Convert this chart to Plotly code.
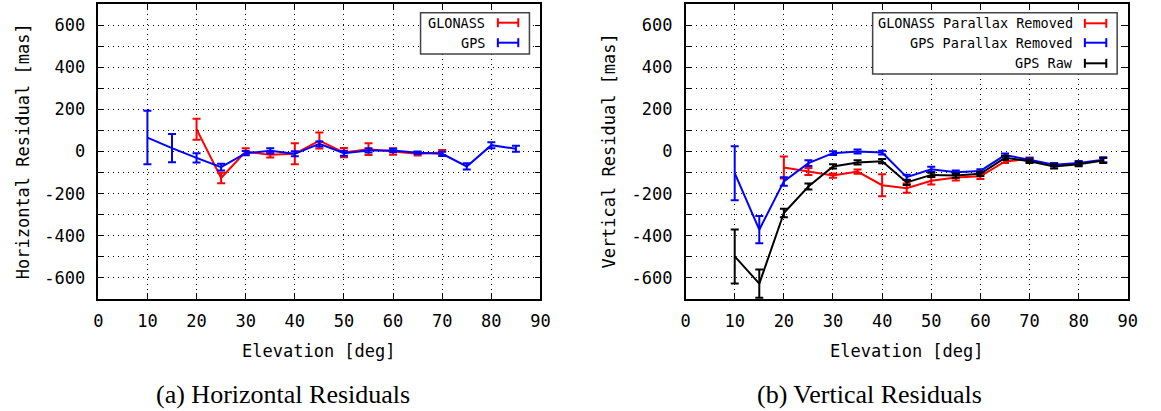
import plotly.graph_objects as go

W, H = 1161, 411

# ---------------- data ----------------
elev_gps = [10, 15, 20, 25, 30, 35, 40, 45, 50, 55, 60, 65, 70, 75, 80, 85]
elev_glo = [20, 25, 30, 35, 40, 45, 50, 55, 60, 65, 70]

# Horizontal residuals [mas]
glo_h = [106, -126, 0, -16, -11, 52, -5, 11, 0, -11, -5]
glo_h_err = [50, 25, 16, 13, 50, 38, 22, 28, 16, 8, 12]
gps_h = [66, 16, -30, -74, -8, 3, -11, 36, -8, 5, 5, -6, -11, -71, 30, 13]
gps_h_err = [127, 67, 22, 16, 10, 13, 12, 12, 12, 10, 8, 6, 10, 15, 14, 14]

# Vertical residuals [mas]
glo_v = [-76, -95, -114, -95, -160, -174, -139, -123, -118, -47, -36]
glo_v_err = [52, 17, 10, 10, 52, 22, 18, 15, 12, 8, 8]
gps_v = [-103, -371, -142, -55, -8, 0, -5, -122, -84, -98, -92, -17, -39, -63, -55, -39]
gps_v_err = [128, 65, 20, 14, 9, 9, 9, 12, 12, 8, 8, 8, 8, 8, 10, 12]
raw_v = [-498, -627, -292, -166, -71, -52, -46, -147, -111, -114, -106, -30, -46, -71, -60, -43]
raw_v_err = [128, 67, 20, 14, 10, 10, 10, 12, 10, 10, 10, 10, 8, 10, 10, 12]

x_ticks = [0, 10, 20, 30, 40, 50, 60, 70, 80, 90]
y_ticks = [-600, -500, -400, -300, -200, -100, 0, 100, 200, 300, 400, 500, 600]
y_ticktext = [str(v) if v % 200 == 0 else "" for v in y_ticks]

RED, BLUE, BLACK = "#ff0000", "#0000ff", "#000000"
MONO = "DejaVu Sans Mono"
SERIF = "Liberation Serif"


def px(x):
    return x / W


def py(y):
    return 1 - y / H


fig = go.Figure()


def add_series(x, y, err, color, xa, ya):
    fig.add_trace(go.Scatter(
        x=x, y=y, mode="lines", xaxis=xa, yaxis=ya,
        line=dict(color=color, width=2),
        error_y=dict(type="data", array=err, color=color, thickness=2, width=4),
        showlegend=False, hoverinfo="skip"))


add_series(elev_glo, glo_h, glo_h_err, RED, "x", "y")
add_series(elev_gps, gps_h, gps_h_err, BLUE, "x", "y")
add_series(elev_glo, glo_v, glo_v_err, RED, "x2", "y2")
add_series(elev_gps, gps_v, gps_v_err, BLUE, "x2", "y2")
add_series(elev_gps, raw_v, raw_v_err, BLACK, "x2", "y2")

ydom = [py(299), py(4)]
common_x = dict(range=[0, 90], tickvals=x_ticks, ticks="inside", ticklen=6,
                tickcolor="black", showline=True, linecolor="black", linewidth=1.5,
                mirror="ticks", showgrid=True, gridcolor="black", gridwidth=1,
                griddash="1px,4px", zeroline=False, ticklabelstandoff=6,
                tickfont=dict(family=MONO, size=17, color="black"))
common_y = dict(range=[-700, 700], tickvals=y_ticks, ticktext=y_ticktext,
                ticks="inside", ticklen=6, tickcolor="black", showline=True,
                linecolor="black", linewidth=1.5, mirror="ticks", showgrid=True,
                gridcolor="black", gridwidth=1, griddash="1px,4px", zeroline=False,
                ticklabelstandoff=8,
                tickfont=dict(family=MONO, size=17, color="black"))

fig.update_layout(
    width=W, height=H, margin=dict(l=0, r=0, t=0, b=0),
    paper_bgcolor="white", plot_bgcolor="white", showlegend=False,
    xaxis=dict(domain=[px(94.5), px(542.5)], anchor="y", **common_x),
    yaxis=dict(domain=ydom, anchor="x", **common_y),
    xaxis2=dict(domain=[px(689.5), px(1137.5)], anchor="y2", **common_x),
    yaxis2=dict(domain=ydom, anchor="x2", **common_y),
)

annotations = []
shapes = []


def text(x, y, s, size, family, xanchor="center", angle=0):
    annotations.append(dict(x=px(x), y=py(y), xref="paper", yref="paper", text=s,
                            showarrow=False, xanchor=xanchor, yanchor="middle",
                            textangle=angle,
                            font=dict(family=family, size=size, color="black")))


# axis titles
text(19, 151.5, "Horizontal Residual [mas]", 17, MONO, angle=-90)
text(612, 151.5, "Vertical Residual [mas]", 17, MONO, angle=-90)
text(318.5, 351, "Elevation [deg]", 17, MONO)
text(913.5, 351, "Elevation [deg]", 17, MONO)
# captions
text(282, 394, "(a) Horizontal Residuals", 26, SERIF)
text(876, 394, "(b) Vertical Residuals", 26, SERIF)


def legend_box(x0, y0, x1, y1):
    shapes.append(dict(type="rect", xref="paper", yref="paper",
                       x0=px(x0), x1=px(x1), y0=py(y1), y1=py(y0),
                       fillcolor="white", line=dict(color="#444444", width=1.5),
                       layer="above"))


def legend_entry(label, color, text_right, y, s0, s1):
    text(text_right, y, label, 13.5, MONO, xanchor="right")
    shapes.append(dict(type="line", xref="paper", yref="paper", x0=px(s0), x1=px(s1),
                       y0=py(y), y1=py(y), line=dict(color=color, width=2), layer="above"))
    for sx in (s0, s1):
        shapes.append(dict(type="line", xref="paper", yref="paper", x0=px(sx), x1=px(sx),
                           y0=py(y - 4.5), y1=py(y + 4.5), line=dict(color=color, width=2),
                           layer="above"))


legend_box(421, 12.7, 531.3, 54)
legend_entry("GLONASS", RED, 488.5, 22.7, 499.3, 520)
legend_entry("GPS", BLUE, 488.5, 42.7, 499.3, 520)

legend_box(879, 12.7, 1126.7, 74)
legend_entry("GLONASS Parallax Removed", RED, 1083.5, 23.3, 1094, 1115.7)
legend_entry("GPS Parallax Removed", BLUE, 1083.5, 42.7, 1094, 1115.7)
legend_entry("GPS Raw", BLACK, 1083.5, 63.3, 1094, 1115.7)

fig.update_layout(annotations=annotations, shapes=shapes)
fig.write_html("out.html")
